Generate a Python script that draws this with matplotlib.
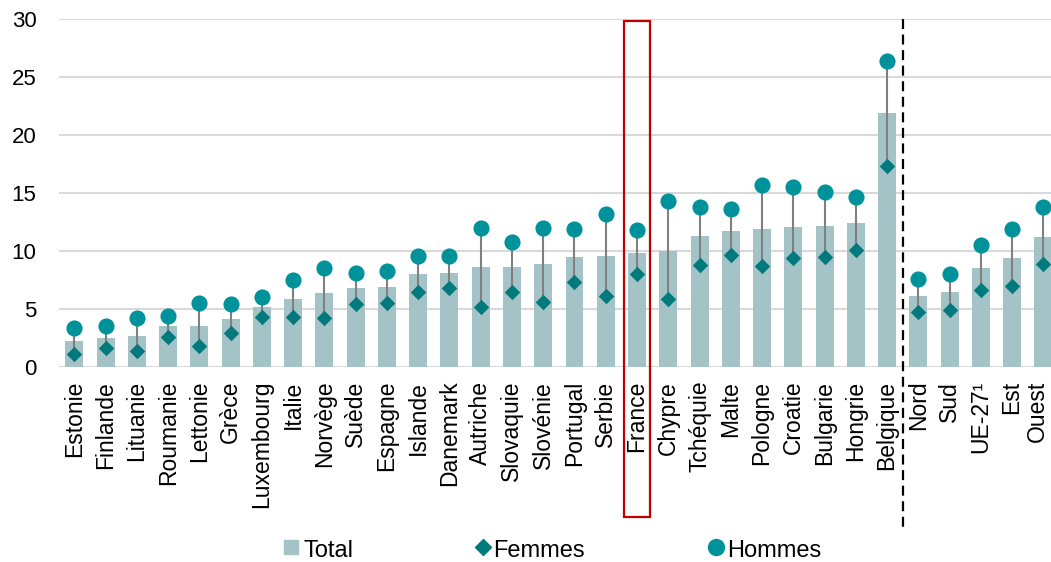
import matplotlib
matplotlib.use("Agg")
import matplotlib.pyplot as plt
from matplotlib.lines import Line2D
from matplotlib.patches import Rectangle
from matplotlib.transforms import ScaledTranslation
import numpy as np

plt.rcParams['font.family'] = ['Liberation Sans', 'DejaVu Sans']

categories = ["Estonie", "Finlande", "Lituanie", "Roumanie", "Lettonie", "Grèce",
              "Luxembourg", "Italie", "Norvège", "Suède", "Espagne", "Islande",
              "Danemark", "Autriche", "Slovaquie", "Slovénie", "Portugal", "Serbie",
              "France", "Chypre", "Tchéquie", "Malte", "Pologne", "Croatie",
              "Bulgarie", "Hongrie", "Belgique", "Nord", "Sud", "UE-27¹", "Est", "Ouest"]

total = [2.2, 2.5, 2.7, 3.5, 3.5, 4.1, 5.2, 5.9, 6.4, 6.8, 6.9, 8.0, 8.1, 8.6,
         8.6, 8.9, 9.5, 9.6, 9.8, 10.0, 11.3, 11.7, 11.9, 12.1, 12.2, 12.4,
         21.9, 6.1, 6.5, 8.5, 9.4, 11.2]
femmes = [1.1, 1.6, 1.4, 2.6, 1.8, 2.9, 4.3, 4.3, 4.2, 5.4, 5.5, 6.5, 6.8, 5.2,
          6.5, 5.6, 7.3, 6.1, 8.0, 5.9, 8.8, 9.7, 8.7, 9.4, 9.5, 10.1,
          17.3, 4.7, 4.9, 6.6, 7.0, 8.9]
hommes = [3.4, 3.5, 4.2, 4.4, 5.5, 5.4, 6.0, 7.5, 8.5, 8.1, 8.3, 9.6, 9.6, 12.0,
          10.8, 12.0, 11.9, 13.2, 11.8, 14.3, 13.8, 13.6, 15.7, 15.5, 15.1, 14.7,
          26.4, 7.6, 8.0, 10.5, 11.9, 13.8]
yticks = [0, 5, 10, 15, 20, 25, 30]
legend_labels = ["Total", "Femmes", "Hommes"]

BAR = "#A3C3C7"
FEM = "#007A7D"
HOM = "#00929A"
STEM = "#808080"

W, H = 1051, 562
fig = plt.figure(figsize=(W / 100, H / 100), dpi=100)
ax = fig.add_axes([0.0559, 0.347, 0.9517, 0.619])

x = np.arange(len(categories))
ax.bar(x, total, width=0.575, color=BAR, zorder=2)
ax.vlines(x, femmes, hommes, color=STEM, lw=1.5, zorder=3)
ax.scatter(x, femmes, marker="D", s=62, color=FEM, zorder=4, linewidths=0)
ax.scatter(x, hommes, marker="o", s=135, color=HOM, zorder=5, linewidths=0)

ax.set_xlim(-0.5, len(categories) - 0.5)
ax.set_ylim(0, 30)
ax.set_yticks(yticks)
ax.yaxis.grid(True, color="#D9D9D9", lw=1.5, zorder=0)
ax.set_axisbelow(True)
for s in ax.spines.values():
    s.set_visible(False)
ax.tick_params(axis="both", length=0)
ax.tick_params(axis="y", pad=16, labelsize=16)
ax.tick_params(axis="x", pad=10, labelsize=16.5)
ax.set_xticks(x)
ax.set_xticklabels(categories, rotation=90, va="top", ha="center")

# keep the last label inside the figure edge
last = ax.get_xticklabels()[-1]
last.set_transform(last.get_transform() +
                   ScaledTranslation(-4 / 72, 0, fig.dpi_scale_trans))

# separator between countries and regional aggregates
ax.plot([26.5, 26.5], [30, -14.1], ls=(0, (4.5, 2.5)), color="black", lw=1.6,
        clip_on=False, zorder=6)

# highlight France
fr = categories.index("France")
ax.add_patch(Rectangle((fr - 0.42, -12.93), 0.84, 42.76, fill=False,
                       edgecolor="#C00000", lw=1.6, clip_on=False, zorder=6))

# legend row
def fx(px):
    return px / W

def fy(py):
    return 1 - py / H

ly = fy(547)
fig.add_artist(Line2D([fx(290.5)], [ly], marker="s", ms=9.5, color=BAR,
                      ls="none", transform=fig.transFigure))
fig.add_artist(Line2D([fx(483)], [ly], marker="D", ms=7.8, color=FEM,
                      ls="none", transform=fig.transFigure))
fig.add_artist(Line2D([fx(716)], [ly], marker="o", ms=11.5, color=HOM,
                      ls="none", transform=fig.transFigure))
for px, lab in zip([304, 493, 727], legend_labels):
    fig.text(fx(px), fy(557), lab, fontsize=17, va="baseline", ha="left")

fig.savefig("out.png", dpi=100)
